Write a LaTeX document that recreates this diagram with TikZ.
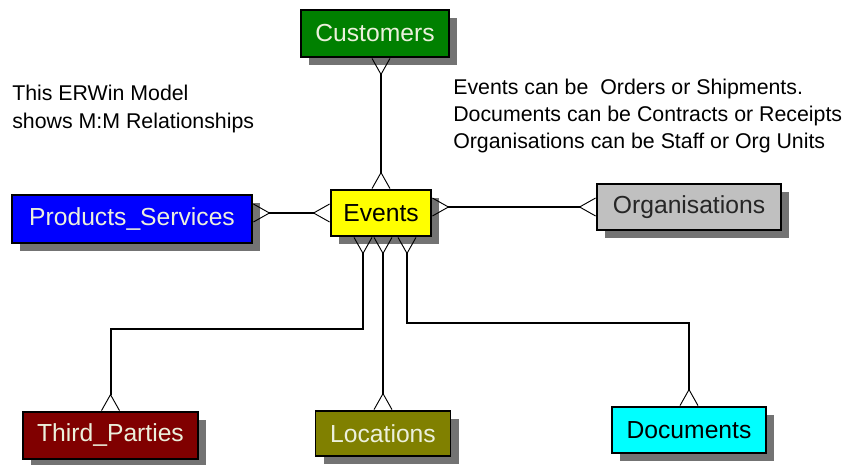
\documentclass[tikz,border=0pt]{standalone}
\usepackage{fontspec}
\setmainfont{Liberation Sans}
\usetikzlibrary{arrows.meta,shadows}

\definecolor{custgreen}{RGB}{0,128,0}
\definecolor{eventyellow}{RGB}{255,255,0}
\definecolor{prodblue}{RGB}{0,0,255}
\definecolor{orggray}{RGB}{192,192,192}
\definecolor{tpmaroon}{RGB}{128,0,0}
\definecolor{locolive}{RGB}{128,128,0}
\definecolor{doccyan}{RGB}{0,255,255}
\definecolor{labelpale}{RGB}{236,240,220}

\tikzset{
  entity/.style={draw=black, line width=1.4pt, inner sep=0pt,
    font=\fontsize{18.5}{22}\selectfont,
    drop shadow={shadow xshift=6pt, shadow yshift=-6pt, fill=black!55, opacity=1}},
  crow/.tip={Straight Barb[reversed, length=12pt, width=13.5pt, line width=0.7pt]},
  rel/.style={line width=1.5pt, crow-crow},
  note/.style={anchor=west, align=left, inner sep=0pt,
    font=\fontsize{16}{20.6}\selectfont}
}

\begin{document}
\begin{tikzpicture}[x=0.75pt,y=0.75pt,yscale=-1,xscale=1]
\useasboundingbox (0,0) rectangle (848,464);

%Shape: Rectangle [Customers]
\node [entity, fill=custgreen, text=labelpale, minimum width=111pt, minimum height=35.25pt] (cust) at (375,33.5) {Customers};
%Shape: Rectangle [Events]
\node [entity, fill=eventyellow, text=black, minimum width=75pt, minimum height=34.5pt] (events) at (381,213) {Events};
%Shape: Rectangle [Products_Services]
\node [entity, fill=prodblue, text=labelpale, minimum width=180pt, minimum height=36pt] (prod) at (132,219) {Products\_Services};
%Shape: Rectangle [Organisations]
\node [entity, fill=orggray, text=black!85, minimum width=138pt, minimum height=34.5pt] (orgs) at (689,207) {Organisations};
%Shape: Rectangle [Third_Parties]
\node [entity, fill=tpmaroon, text=labelpale, minimum width=131.25pt, minimum height=35.25pt] (tp) at (110.5,435.5) {Third\_Parties};
%Shape: Rectangle [Locations]
\node [entity, fill=locolive, text=labelpale, minimum width=101.25pt, minimum height=33.75pt] (locs) at (383,433.5) {Locations};
%Shape: Rectangle [Documents]
\node [entity, fill=doccyan, text=black, minimum width=115.5pt, minimum height=34.5pt] (docs) at (689,430) {Documents};

%Straight Lines [Customers - Events]
\draw [rel] (events.north |- cust.south) -- (events.north) ;
%Straight Lines [Products_Services - Events]
\draw [rel] (prod.east |- events.west) -- (events.west) ;
%Straight Lines [Events - Organisations]
\draw [rel] (events.east |- orgs.west) -- (orgs.west) ;
%Elbow Lines [Events - Third_Parties]
\draw [rel] ([xshift=-13.5pt]events.south) -- ++(0,92) -| (tp.north) ;
%Straight Lines [Events - Locations]
\draw [rel] (locs.north |- events.south) -- (locs.north) ;
%Elbow Lines [Events - Documents]
\draw [rel] ([xshift=19.5pt]events.south) -- ++(0,86) -| (docs.north) ;

% Text Node
\node [note] (model) at (12,109) {This ERWin Model\\shows M:M Relationships};
% Text Node
\node [note] (kinds) at (453,116) {Events can be\ \ Orders or Shipments.\\Documents can be Contracts or Receipts\\Organisations can be Staff or Org Units};

\end{tikzpicture}
\end{document}
